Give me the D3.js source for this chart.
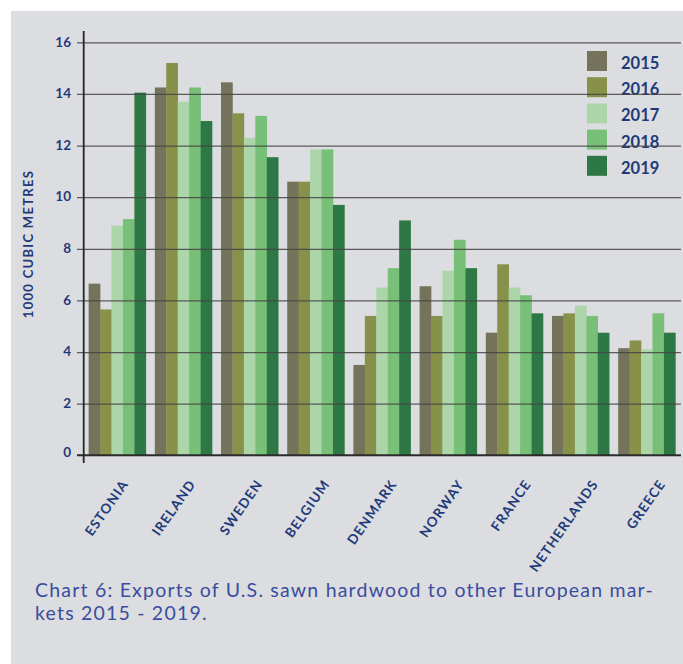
<!DOCTYPE html>
<html>
<head>
<meta charset="utf-8">
<script src="https://cdn.jsdelivr.net/npm/d3@7"></script>
<style>
  html, body { margin: 0; padding: 0; background: #ffffff; }
  svg { display: block; }
</style>
</head>
<body>
<svg id="chart" width="683" height="664"></svg>
<script>
// Exports of U.S. sawn hardwood, 1000 cubic metres
const countries = ["ESTONIA", "IRELAND", "SWEDEN", "BELGIUM", "DENMARK", "NORWAY", "FRANCE", "NETHERLANDS", "GREECE"];
const years = ["2015", "2016", "2017", "2018", "2019"];
const v2015 = [6.65, 14.25, 14.45, 10.6, 3.5, 6.55, 4.75, 5.4, 4.15];
const v2016 = [5.65, 15.2, 13.25, 10.6, 5.4, 5.4, 7.4, 5.5, 4.45];
const v2017 = [8.9, 13.7, 12.3, 11.85, 6.5, 7.15, 6.5, 5.8, 4.1];
const v2018 = [9.15, 14.25, 13.15, 11.85, 7.25, 8.35, 6.2, 5.4, 5.5];
const v2019 = [14.05, 12.95, 11.55, 9.7, 9.1, 7.25, 5.5, 4.75, 4.75];
const yTicks = [0, 2, 4, 6, 8, 10, 12, 14, 16];
const yTitle = "1000 CUBIC METRES";
const caption = ["Chart 6: Exports of U.S. sawn hardwood to other European mar-", "kets 2015 - 2019."];
const colors = ["#75735b", "#88914a", "#acd5aa", "#78bf77", "#2e7845"];

const seriesValues = [v2015, v2016, v2017, v2018, v2019];
const rows = countries.map((c, i) => {
  const r = { country: c };
  years.forEach((y, k) => { r[y] = seriesValues[k][i]; });
  return r;
});

const navy = "#1f3a7a";
const svg = d3.select("#chart");

// grey panel
svg.append("rect")
  .attr("x", 11).attr("y", 11).attr("width", 672).attr("height", 653)
  .attr("fill", "#dcdde0");

const x = d3.scaleBand().domain(countries).range([84, 680]).paddingInner(0.136).paddingOuter(0.07);
const xIn = d3.scaleBand().domain(years).range([0, x.bandwidth()]);
const y = d3.scaleLinear().domain([0, 16]).range([455.3, 42.3]);
const color = d3.scaleOrdinal().domain(years).range(colors);

// bars
const groups = svg.append("g").selectAll("g").data(rows).join("g")
  .attr("transform", d => `translate(${x(d.country)},0)`);
groups.selectAll("rect").data(d => years.map(yr => ({ yr, v: d[yr] }))).join("rect")
  .attr("x", d => xIn(d.yr))
  .attr("width", xIn.bandwidth() + 0.3)
  .attr("y", d => y(d.v))
  .attr("height", d => y(0) - y(d.v))
  .attr("fill", d => color(d.yr));

// legend
const legend = svg.append("g").attr("transform", "translate(587,51)");
const li = legend.selectAll("g").data(years).join("g")
  .attr("transform", (d, i) => `translate(0,${i * 26.2})`);
li.append("rect").attr("width", 20).attr("height", 20).attr("fill", d => color(d));
li.append("text").attr("x", 34).attr("y", 18)
  .attr("font-family", "Lato").attr("font-weight", 700).attr("font-size", 16.5)
  .attr("fill", navy).text(d => d);

// horizontal grid lines with left ticks, drawn above bars
const yAxis = d3.axisLeft(y).tickValues(yTicks.filter(t => t > 0))
  .tickSize(-(681 - 84)).tickSizeOuter(0).tickPadding(13).tickFormat(d3.format("d"));
const gy = svg.append("g").attr("transform", "translate(84,0)").call(yAxis);
gy.select(".domain").remove();
gy.selectAll(".tick line").attr("x1", -7).attr("stroke", "#444444").attr("stroke-width", 1.3).attr("stroke-opacity", 0.85);
gy.selectAll(".tick text")
  .attr("font-family", "Lato").attr("font-weight", 700).attr("font-size", 13.5)
  .attr("fill", navy).attr("dy", "0.28em");

// zero line and its label
svg.append("line").attr("x1", 77).attr("x2", 681).attr("y1", y(0)).attr("y2", y(0))
  .attr("stroke", "#2b2b2b").attr("stroke-width", 2);
svg.append("text").attr("x", 71).attr("y", y(0)).attr("dy", "0.1em")
  .attr("text-anchor", "end")
  .attr("font-family", "Lato").attr("font-weight", 700).attr("font-size", 13.5)
  .attr("fill", navy).text(yTicks[0]);

// vertical axis line
svg.append("line").attr("x1", 83.7).attr("x2", 83.7).attr("y1", 31).attr("y2", 463)
  .attr("stroke", "#262626").attr("stroke-width", 1.8);

// y axis title
svg.append("text")
  .attr("transform", "translate(33,244) rotate(-90)")
  .attr("text-anchor", "middle")
  .attr("font-family", "Lato").attr("font-weight", 700).attr("font-size", 13)
  .attr("letter-spacing", 1.3)
  .attr("fill", navy).text(yTitle);

// rotated category labels
const xl = d3.scalePoint().domain(countries).range([129, 666]);
svg.append("g").selectAll("text").data(countries).join("text")
  .attr("transform", d => `translate(${xl(d)},484) rotate(-55)`)
  .attr("text-anchor", "end")
  .attr("font-family", "Lato").attr("font-weight", 700).attr("font-size", 13.5)
  .attr("letter-spacing", 1)
  .attr("fill", navy).text(d => d);

// caption
svg.append("g").selectAll("text").data(caption).join("text")
  .attr("x", 35).attr("y", (d, i) => 597 + i * 23)
  .attr("font-family", "Lato").attr("font-weight", 400).attr("font-size", 19.5)
  .attr("letter-spacing", 1.2)
  .attr("fill", "#3a4d9e").text(d => d);
</script>
</body>
</html>
